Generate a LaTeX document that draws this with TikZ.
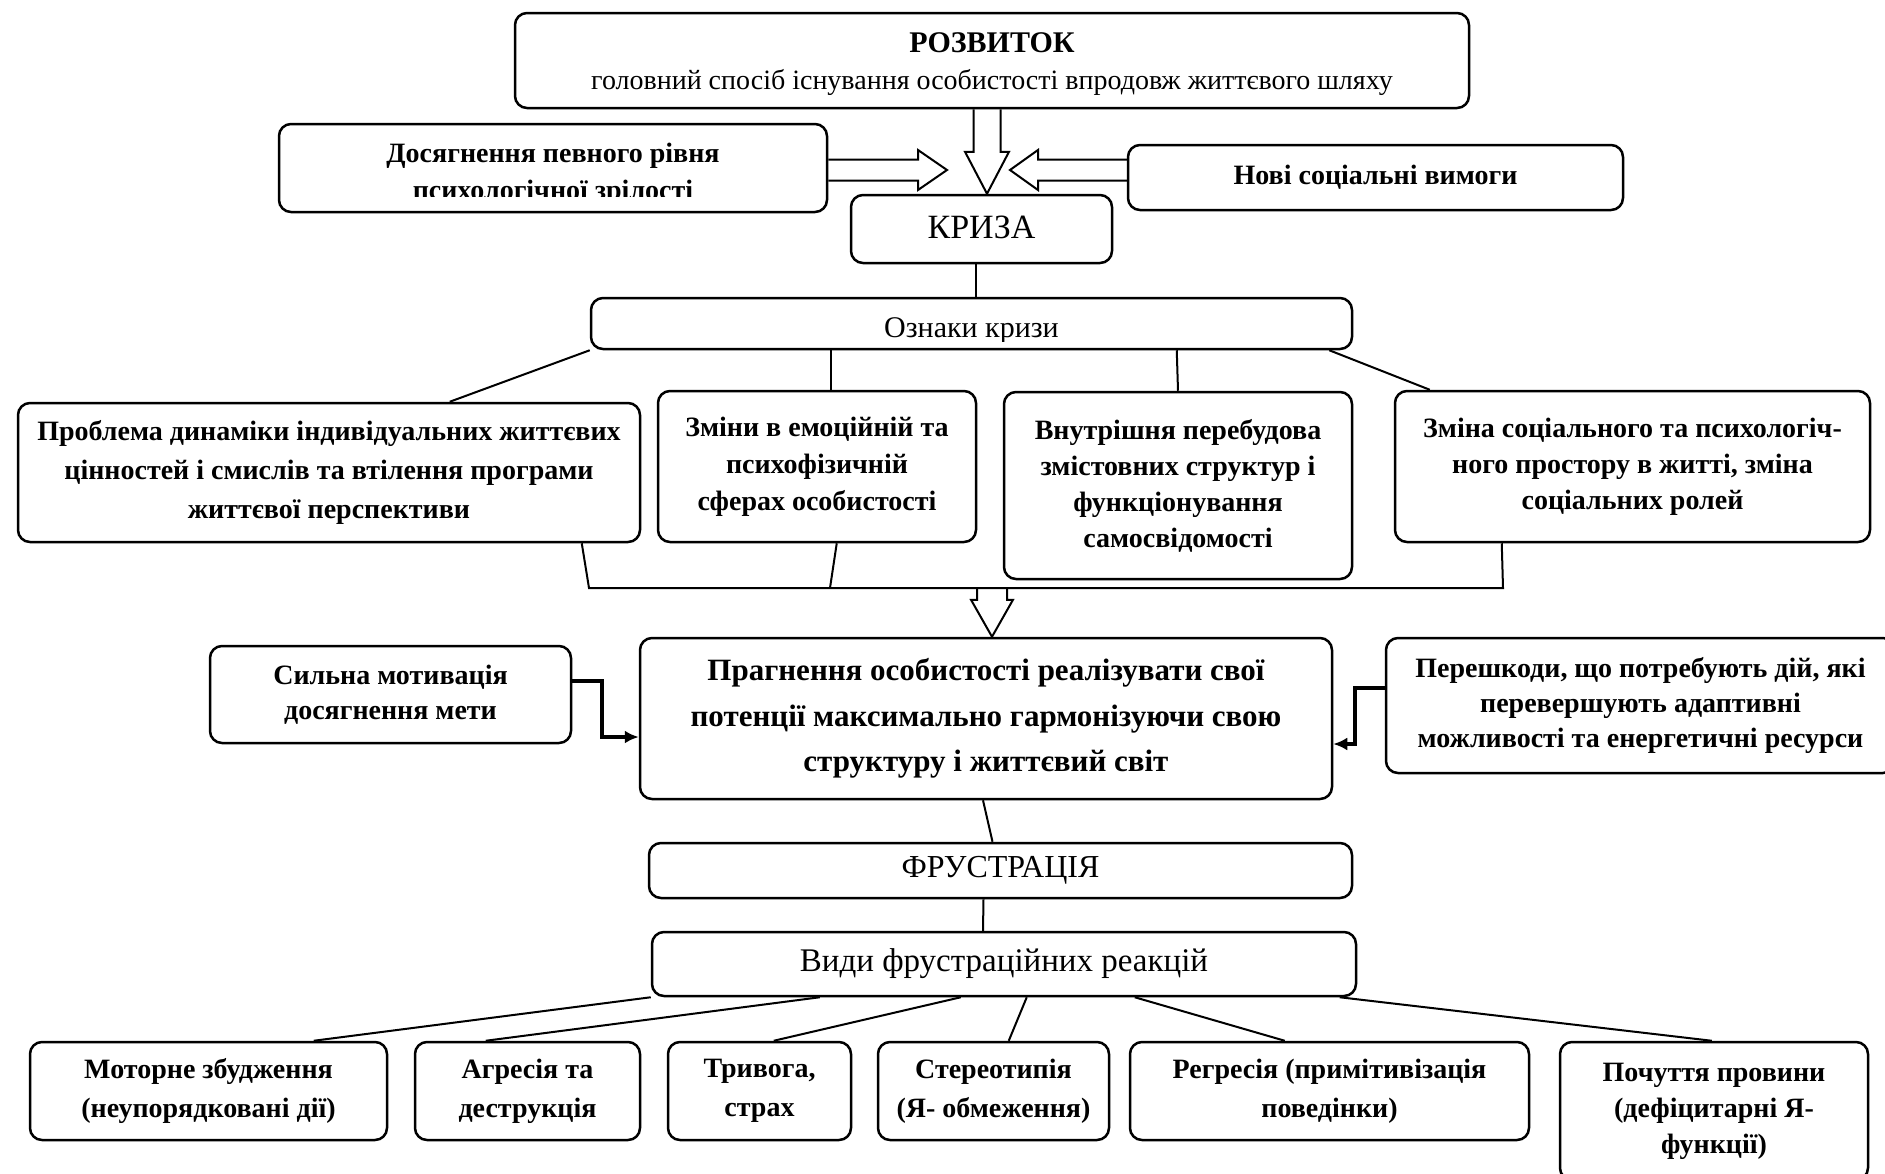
\documentclass[tikz,border=0pt]{standalone}
\usepackage{fontspec}
\setmainfont{Liberation Serif}
\usetikzlibrary{calc,arrows.meta}
\tikzset{
  bx/.style={draw, line width=1.25pt, rounded corners=6pt, fill=white, inner sep=0pt, align=center,
    font=\bfseries\fontsize{14}{18.5}\selectfont},
  tx/.style={inner sep=0pt, align=center, font=\bfseries\fontsize{14}{18.5}\selectfont},
  ln/.style={line width=1pt},
  hol/.style={line width=1pt, line join=miter},
  thk/.style={line width=2pt, -{Latex[length=7pt,width=6.5pt]}},
}
\newcommand\HArrV[5]{%
  \draw[hol] let \p1=(#1), \p2=(#2) in
    ({\x1-#4},\y1) -- ({\x1-#4},{\y2+#3}) -- ({\x1-#5},{\y2+#3}) -- (\x1,\y2)
    -- ({\x1+#5},{\y2+#3}) -- ({\x1+#4},{\y2+#3}) -- ({\x1+#4},\y1);}
\newcommand\HArrH[5]{%
  \draw[hol] let \p1=(#1), \p2=(#2) in
    (\x1,{\y1+#4}) -- ({\x2-(#3)},{\y1+#4}) -- ({\x2-(#3)},{\y1+#5}) -- (\x2,\y1)
    -- ({\x2-(#3)},{\y1-#5}) -- ({\x2-(#3)},{\y1-#4}) -- (\x1,{\y1-#4});}
\begin{document}
\begin{tikzpicture}[x=0.5pt,y=-0.5pt]
\useasboundingbox[fill=white] (0,0) rectangle (1885,1173);

% top part
\node[bx, minimum width=477pt, minimum height=47.5pt] (top) at (992,60.5) {};
\node[tx] (topt) at (992,64)
  {\fontsize{15}{20}\selectfont РОЗВИТОК\\ \mdseries\fontsize{14}{20}\selectfont головний спосіб існування особистості впродовж життєвого шляху};
\node[bx, minimum width=274pt, minimum height=44pt] (dos) at (553,168) {};
\begin{scope}
  \clip (279,124) rectangle (827,196);
  \node[tx] (dost) at (553,174) {Досягнення певного рівня\\психологічної зрілості};
\end{scope}
\node[bx, minimum width=247.5pt, minimum height=32.5pt] (nov) at (1375.5,177.5) {Нові соціальні вимоги};
\node[bx, minimum width=130.5pt, minimum height=34pt, font=\fontsize{17}{20}\selectfont] (kryza) at (981.5,229) {};
\node[tx, font=\fontsize{17}{20}\selectfont] (kryzat) at (981.5,227) {КРИЗА};

\coordinate (tipL) at (947,170);
\coordinate (tipR) at (1010,170);
\HArrV{$(top.south)+(-5,0)$}{kryza.north}{21pt}{6.75pt}{11pt}
\HArrH{$(dos.east)+(0,2)$}{tipL}{14.5pt}{5.25pt}{10pt}
\HArrH{$(nov.west)+(0,-7.5)$}{tipR}{-14pt}{5.25pt}{10pt}

% signs of crisis
\node[bx, minimum width=380.5pt, minimum height=25.5pt] (ozn) at (971.5,323.5) {};
\begin{scope}
  \clip (591,298) rectangle (1352,341);
  \node[tx, font=\fontsize{15}{18}\selectfont] (oznt) at (971.5,331) {Ознаки кризи};
\end{scope}
\draw[ln] ($(kryza.south)+(-5.5,0)$) -- ($(ozn.north)+(4.5,0)$);

\node[bx, minimum width=311pt, minimum height=69.5pt, font=\bfseries\fontsize{14}{19.5}\selectfont] (b1) at (329,472.5)
  {Проблема динаміки індивідуальних життєвих\\цінностей і смислів та втілення програми\\життєвої перспективи};
\node[bx, minimum width=159pt, minimum height=75.5pt] (b2) at (817,466.5)
  {Зміни в емоційній та\\психофізичній\\сферах особистості};
\node[bx, minimum width=174pt, minimum height=93.5pt, font=\bfseries\fontsize{14}{18}\selectfont] (b3) at (1178,485.5)
  {Внутрішня перебудова\\змістовних структур і\\функціонування\\самосвідомості};
\node[bx, minimum width=237.5pt, minimum height=75.5pt, font=\bfseries\fontsize{14}{18}\selectfont] (b4) at (1632.5,466.5)
  {Зміна соціального та психологіч-\\ного простору в житті, зміна\\соціальних ролей};

\draw[ln] (ozn.south west) -- ($(b1.north west)+(433,0)$);
\draw[ln] ($(ozn.south west)+(241,0)$) -- ($(b2.north west)+(174,0)$);
\draw[ln] ($(ozn.south west)+(587,0)$) -- (b3.north);
\draw[ln] ($(ozn.south east)+(-24,0)$) -- ($(b4.north west)+(36,0)$);

\coordinate (jL) at (589,588);
\coordinate (jB) at (830,588);
\coordinate (jC) at (992,588);
\coordinate (jR) at (1503,588);
\draw[ln] ($(b1.south west)+(565,0)$) -- (jL) -- (jR) -- ($(b4.south west)+(108,0)$);
\draw[ln] ($(b2.south west)+(180,0)$) -- (jB);

% striving
\node[bx, minimum width=346pt, minimum height=80.5pt, font=\bfseries\fontsize{15.5}{22.8}\selectfont] (prag) at (986,718.5)
  {Прагнення особистості реалізувати свої\\потенції максимально гармонізуючи свою\\структуру і життєвий світ};
\HArrV{jC}{prag.north}{18.5pt}{7.5pt}{10.5pt}
\node[bx, minimum width=180.5pt, minimum height=48.5pt, font=\bfseries\fontsize{14}{17.5}\selectfont] (syl) at (390.5,694.5)
  {Сильна мотивація\\досягнення мети};
\node[bx, minimum width=254.5pt, minimum height=67.5pt, font=\bfseries\fontsize{14}{17.3}\selectfont] (per) at (1640.5,705.5)
  {Перешкоди, що потребують дій, які\\перевершують адаптивні\\можливості та енергетичні ресурси};
\draw[thk] ($(syl.east)+(0,-13.5)$) -- ++(30,0) |- ($(prag.west)+(0,18.5)$);
\draw[thk] ($(per.west)+(0,-17.5)$) -- ++(-30,0) |- ($(prag.east)+(0,25.5)$);

% frustration
\node[bx, minimum width=351.5pt, minimum height=27.5pt, font=\fontsize{16}{18}\selectfont] (frus) at (1000.5,870.5) {ФРУСТРАЦІЯ};
\draw[ln] ($(prag.south)+(-3,0)$) -- ($(frus.north)+(-8,0)$);
\node[bx, minimum width=352pt, minimum height=32pt, font=\fontsize{16.5}{18}\selectfont] (vydy) at (1004,964) {Види фрустраційних реакцій};
\draw[ln] ($(frus.south)+(-17,0)$) -- ($(vydy.north)+(-21,0)$);

\node[bx, minimum width=178.5pt, minimum height=49pt, font=\bfseries\fontsize{14}{19.5}\selectfont] (m1) at (208.5,1091)
  {Моторне збудження\\(неупорядковані дії)};
\node[bx, minimum width=112.5pt, minimum height=49pt, font=\bfseries\fontsize{14}{19.5}\selectfont] (m2) at (527.5,1091)
  {Агресія та\\деструкція};
\node[bx, minimum width=91.5pt, minimum height=49pt, font=\bfseries\fontsize{14}{19.5}\selectfont] (m3) at (759.5,1091)
  {Тривога,\\страх};
\node[bx, minimum width=115.5pt, minimum height=49pt, font=\bfseries\fontsize{14}{19.5}\selectfont] (m4) at (993.5,1091)
  {Стереотипія\\(Я- обмеження)};
\node[bx, minimum width=199.5pt, minimum height=49pt, font=\bfseries\fontsize{14}{19.5}\selectfont] (m5) at (1329.5,1091)
  {Регресія (примітивізація\\поведінки)};
\node[bx, minimum width=154pt, minimum height=69pt, font=\bfseries\fontsize{14}{18}\selectfont] (m6) at (1714,1111)
  {Почуття провини\\(дефіцитарні Я-\\функції)};

\draw[ln] (vydy.south west) -- ($(m1.north west)+(285,0)$);
\draw[ln] ($(vydy.south west)+(169,0)$) -- ($(m2.north west)+(72,0)$);
\draw[ln] ($(vydy.south west)+(310,0)$) -- ($(m3.north west)+(107,0)$);
\draw[ln] ($(vydy.south west)+(376,0)$) -- ($(m4.north west)+(132,0)$);
\draw[ln] ($(vydy.south west)+(484,0)$) -- ($(m5.north west)+(156,0)$);
\draw[ln] ($(vydy.south west)+(689,0)$) -- ($(m6.north west)+(153,0)$);
\end{tikzpicture}
\end{document}
